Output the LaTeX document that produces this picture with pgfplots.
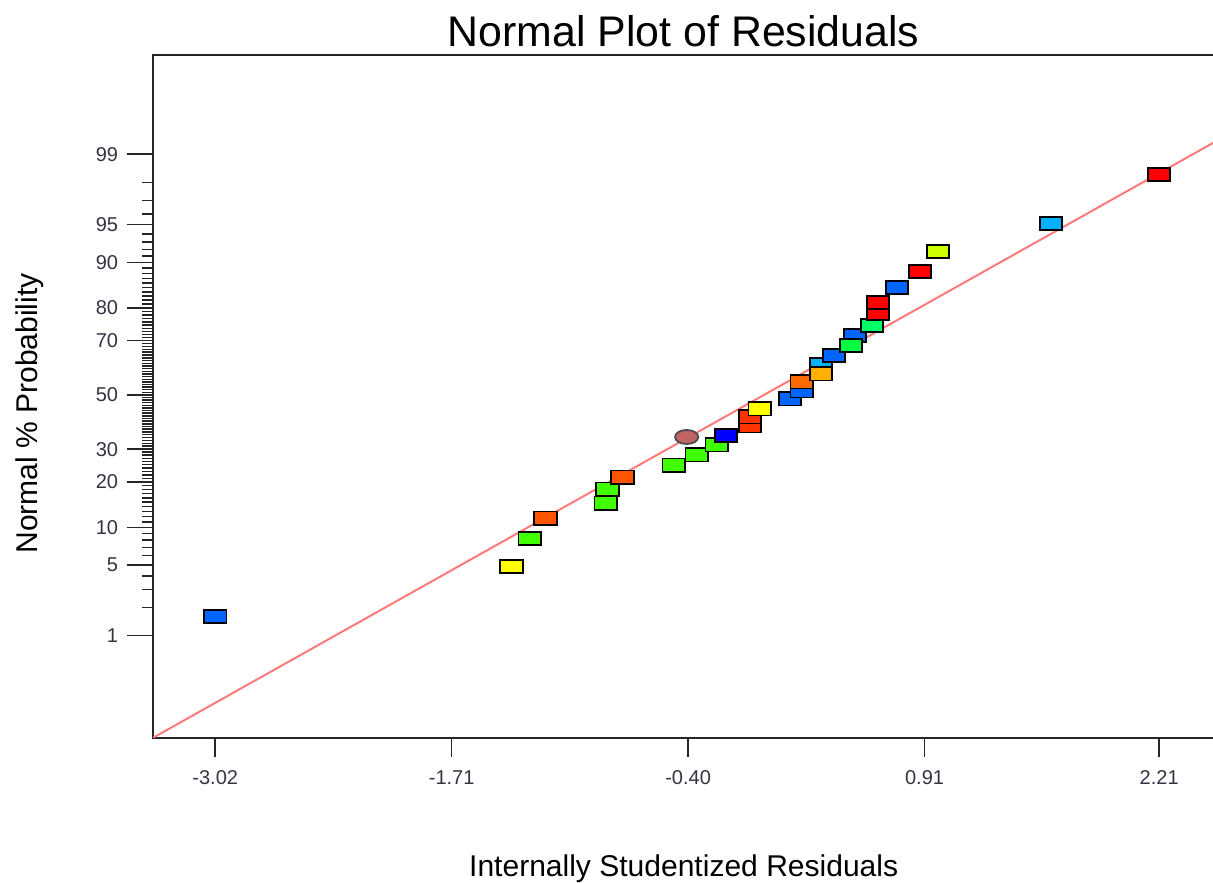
\documentclass[border=0pt]{standalone}
\usepackage{pgfplots}
\pgfplotsset{compat=1.18}
\usepackage{pgfplotstable}
\usepackage{fontspec}
\setmainfont{Liberation Sans}
\definecolor{cBl}{HTML}{0066FF}
\definecolor{cDb}{HTML}{0000FF}
\definecolor{cYe}{HTML}{FFFF00}
\definecolor{cGr}{HTML}{40FF00}
\definecolor{cOr}{HTML}{FF5500}
\definecolor{cRo}{HTML}{FF3300}
\definecolor{cBr}{HTML}{C06464}
\definecolor{cOg}{HTML}{FF6A00}
\definecolor{cGo}{HTML}{FFB000}
\definecolor{cLb}{HTML}{00B0FF}
\definecolor{cGg}{HTML}{00FF40}
\definecolor{cGt}{HTML}{00FF66}
\definecolor{cRd}{HTML}{FF0000}
\definecolor{cYg}{HTML}{CCFF00}
\definecolor{tickc}{HTML}{333344}
\definecolor{fitc}{HTML}{FF7A7A}
\pgfdeclareplotmark{rectm}{\pgfpathrectangle{\pgfpoint{-5.6pt}{-3.3pt}}{\pgfpoint{11.2pt}{6.6pt}}\pgfusepathqfillstroke}
\pgfdeclareplotmark{ellm}{\pgfpathellipse{\pgfpointorigin}{\pgfpoint{5.8pt}{0pt}}{\pgfpoint{0pt}{3.5pt}}\pgfusepathqfillstroke}
\pgfplotstableread{
x z c
-3.020 -2.141 bl
-1.378 -1.657 ye
-1.278 -1.386 gr
-1.190 -1.192 or
-0.857 -1.047 gr
-0.846 -0.911 gr
-0.763 -0.795 or
-0.480 -0.678 gr
-0.408 -0.407 br
-0.352 -0.581 gr
-0.241 -0.484 gr
-0.191 -0.392 db
-0.058 -0.300 ro
-0.058 -0.213 ro
-0.003 -0.136 ye
0.164 -0.039 bl
0.230 0.039 bl
0.230 0.126 og
0.336 0.291 lb
0.336 0.203 go
0.408 0.378 bl
0.524 0.572 bl
0.502 0.475 gg
0.618 0.669 gt
0.652 0.785 rd
0.652 0.891 rd
0.757 1.037 bl
0.885 1.192 rd
0.984 1.386 yg
1.611 1.657 lb
2.210 2.132 rd
}\resid
\begin{document}
\begin{tikzpicture}
\begin{axis}[
  scale only axis,
  width=530pt, height=341pt,
  xmin=-3.364, xmax=2.515,
  ymin=-3.314, ymax=3.285,
  axis line style={line width=1pt, draw=black!85},
  tick pos=left,
  tick align=outside,
  major tick length=13pt,
  minor tick length=5.5pt,
  xtick style={/pgfplots/major tick length=9.5pt},
  every tick/.style={black!85, line width=0.75pt},
  xtick={-3.02,-1.71,-0.40,0.91,2.21},
  xticklabels={-3.02,-1.71,-0.40,0.91,2.21},
  ytick={-2.3263,-1.6449,-1.2816,-0.8416,-0.5244,0,0.5244,0.8416,1.2816,1.6449,2.3263},
  yticklabels={1,5,10,20,30,50,70,80,90,95,99},
  minor ytick={-2.0537,-1.8808,-1.7507,-1.5548,-1.4758,-1.4051,-1.3408,-1.2265,-1.1750,-1.1264,-1.0803,-1.0364,-0.9945,-0.9542,-0.9154,-0.8779,-0.8064,-0.7722,-0.7388,-0.7063,-0.6745,-0.6433,-0.6128,-0.5828,-0.5534,-0.4959,-0.4677,-0.4399,-0.4125,-0.3853,-0.3585,-0.3319,-0.3055,-0.2793,-0.2533,-0.2275,-0.2019,-0.1764,-0.1510,-0.1257,-0.1004,-0.0753,-0.0502,-0.0251,
  0.0251,0.0502,0.0753,0.1004,0.1257,0.1510,0.1764,0.2019,0.2275,0.2533,0.2793,0.3055,0.3319,0.3585,0.3853,0.4125,0.4399,0.4677,0.4959,0.5534,0.5828,0.6128,0.6433,0.6745,0.7063,0.7388,0.7722,0.8064,0.8779,0.9154,0.9542,0.9945,1.0364,1.0803,1.1264,1.1750,1.2265,1.3408,1.4051,1.4758,1.5548,1.7507,1.8808,2.0537},
  /pgf/number format/assume math mode=true,
  ticklabel style={font=\fontsize{10pt}{12pt}\selectfont, text=tickc},
  yticklabel style={xshift=-1pt},
  title={Normal Plot of Residuals},
  title style={at={(axis description cs:0.5,1)}, anchor=base, yshift=-1.5pt, font=\fontsize{21.4pt}{24pt}\selectfont},
  xlabel={Internally Studentized Residuals},
  xlabel style={at={(axis description cs:0.5,0)}, anchor=base, yshift=-69.2pt, font=\fontsize{15pt}{18pt}\selectfont},
  ylabel={Normal \% Probability},
  ylabel style={at={(axis description cs:0,0.475)}, anchor=base, yshift=58pt, font=\fontsize{15pt}{18pt}\selectfont},
  clip=true,
]
\addplot[draw=fitc, line width=1pt, no marks] coordinates {(-3.364,-3.314) (2.515,2.442)};
\addplot[scatter, only marks, point meta=explicit symbolic,
  scatter/classes={
    bl={mark=rectm, fill=cBl, draw=black, line width=0.9pt},
    db={mark=rectm, fill=cDb, draw=black, line width=0.9pt},
    ye={mark=rectm, fill=cYe, draw=black, line width=0.9pt},
    gr={mark=rectm, fill=cGr, draw=black, line width=0.9pt},
    or={mark=rectm, fill=cOr, draw=black, line width=0.9pt},
    ro={mark=rectm, fill=cRo, draw=black, line width=0.9pt},
    br={mark=ellm, fill=cBr, draw=black!70, line width=0.9pt},
    og={mark=rectm, fill=cOg, draw=black, line width=0.9pt},
    go={mark=rectm, fill=cGo, draw=black, line width=0.9pt},
    lb={mark=rectm, fill=cLb, draw=black, line width=0.9pt},
    gg={mark=rectm, fill=cGg, draw=black, line width=0.9pt},
    gt={mark=rectm, fill=cGt, draw=black, line width=0.9pt},
    rd={mark=rectm, fill=cRd, draw=black, line width=0.9pt},
    yg={mark=rectm, fill=cYg, draw=black, line width=0.9pt}}]
  table[x=x, y=z, meta=c] {\resid};
\end{axis}
\pgfresetboundingbox
\useasboundingbox ([xshift=-76.5pt, yshift=-72.5pt]current axis.south west) rectangle ([xshift=-0.6pt, yshift=27.5pt]current axis.north east);
\end{tikzpicture}
\end{document}
